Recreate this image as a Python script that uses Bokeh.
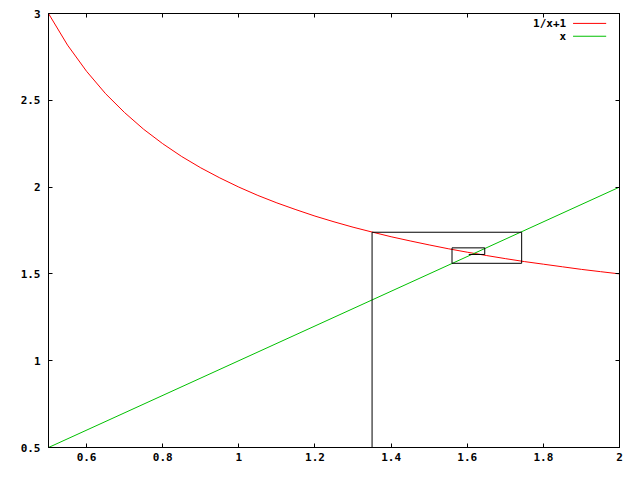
from bokeh.plotting import figure
from bokeh.models import Range1d, LinearAxis, FixedTicker, CustomJSTickFormatter, Label
from bokeh.embed import file_html
from bokeh.resources import INLINE

# Curve 1/x+1
curve_x = [0.50, 0.55, 0.60, 0.65, 0.70, 0.75, 0.80, 0.85, 0.90, 0.95, 1.00,
           1.05, 1.10, 1.15, 1.20, 1.25, 1.30, 1.35, 1.40, 1.45, 1.50,
           1.55, 1.60, 1.65, 1.70, 1.75, 1.80, 1.85, 1.90, 1.95, 2.00]
curve_y = [3.000, 2.818, 2.667, 2.538, 2.429, 2.333, 2.250, 2.176, 2.111, 2.053, 2.000,
           1.952, 1.909, 1.870, 1.833, 1.800, 1.769, 1.741, 1.714, 1.690, 1.667,
           1.645, 1.625, 1.606, 1.588, 1.571, 1.556, 1.541, 1.526, 1.513, 1.500]

# Line y = x
line_x = [0.5, 2.0]
line_y = [0.5, 2.0]

# Cobweb path
web_x = [1.35, 1.35, 1.743, 1.743, 1.560, 1.560, 1.646, 1.646, 1.604]
web_y = [0.50, 1.740, 1.740, 1.561, 1.561, 1.650, 1.650, 1.612, 1.612]

x_ticks = [0.6, 0.8, 1.0, 1.2, 1.4, 1.6, 1.8, 2.0]
y_ticks = [0.5, 1.0, 1.5, 2.0, 2.5, 3.0]
legend_labels = ["1/x+1", "x"]

RED = "#ff0000"
GREEN = "#00c000"
FONT = "DejaVu Sans Mono"

p = figure(width=624, height=464, output_backend="svg", toolbar_location=None,
           x_range=Range1d(0.5, 2.0), y_range=Range1d(0.5, 3.0),
           min_border_left=48, min_border_right=5, min_border_top=13, min_border_bottom=17,
           x_axis_type=None, y_axis_type=None)
p.background_fill_color = "white"
p.border_fill_color = "white"
p.outline_line_color = "black"
p.outline_line_width = 1
p.grid.visible = False

blank = CustomJSTickFormatter(code="return ''")

def style(ax, labels=True):
    ax.axis_line_color = "black"
    ax.major_tick_line_color = "black"
    ax.major_tick_in = 4
    ax.major_tick_out = 0
    ax.minor_tick_line_color = None
    if labels:
        ax.major_label_text_font = FONT
        ax.major_label_text_font_style = "bold"
        ax.major_label_text_font_size = "11px"
        ax.major_label_text_color = "black"
    else:
        ax.formatter = blank
        ax.major_label_text_font_size = "0px"
        ax.major_label_standoff = 0

xb = LinearAxis(ticker=FixedTicker(ticks=x_ticks))
style(xb)
xb.major_label_standoff = 5
p.add_layout(xb, "below")

yl = LinearAxis(ticker=FixedTicker(ticks=y_ticks))
style(yl)
yl.major_label_standoff = 8
p.add_layout(yl, "left")

xt = LinearAxis(ticker=FixedTicker(ticks=x_ticks))
style(xt, labels=False)
p.add_layout(xt, "above")

yr = LinearAxis(ticker=FixedTicker(ticks=y_ticks))
style(yr, labels=False)
p.add_layout(yr, "right")

p.line(curve_x, curve_y, line_color=RED, line_width=1)
p.line(line_x, line_y, line_color=GREEN, line_width=1)
p.line(web_x, web_y, line_color="black", line_width=1)

# Legend in gnuplot style: right-aligned text, sample line to its right
leg_text_x = 1.86
leg_line_x = [1.878, 1.965]
leg_y = [2.943, 2.869]
for lab, col, yy in zip(legend_labels, [RED, GREEN], leg_y):
    p.add_layout(Label(x=leg_text_x, y=yy, text=lab, text_align="right",
                       text_baseline="middle", text_font=FONT, text_font_style="bold",
                       text_font_size="11px", text_color="black"))
    p.line(leg_line_x, [yy, yy], line_color=col, line_width=1)

open("out.html", "w").write(file_html(p, INLINE))
